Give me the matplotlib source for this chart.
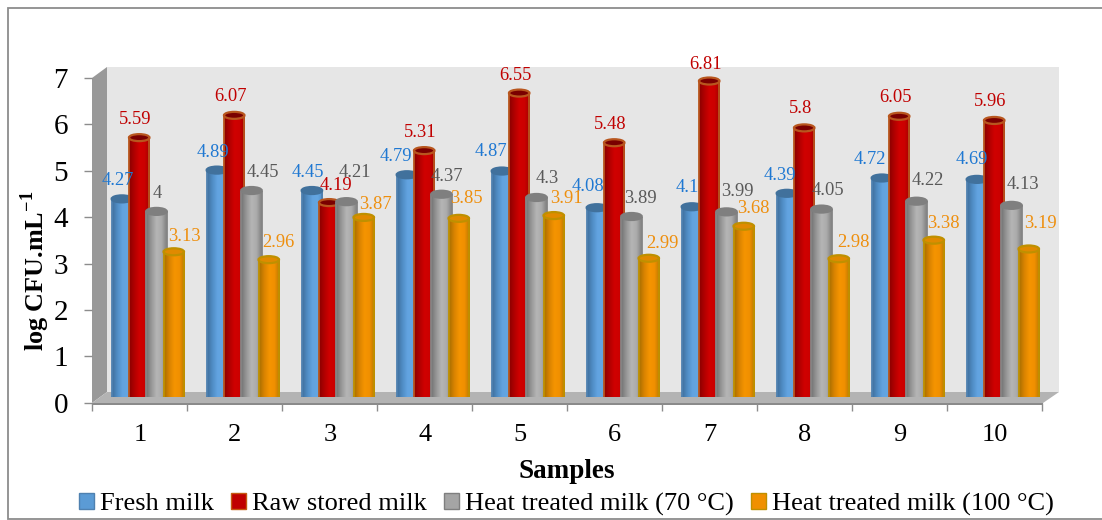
import numpy as np
import matplotlib
matplotlib.use("Agg")
import matplotlib.pyplot as plt
from matplotlib.patches import Ellipse, Polygon, Rectangle, Patch
from matplotlib.colors import LinearSegmentedColormap

plt.rcParams['font.family'] = ['Liberation Serif', 'DejaVu Serif']
plt.rcParams['mathtext.fontset'] = 'custom'
plt.rcParams['mathtext.rm'] = 'Liberation Serif'
plt.rcParams['mathtext.bf'] = 'Liberation Serif:bold'

samples = ['1', '2', '3', '4', '5', '6', '7', '8', '9', '10']
fresh_milk = [4.27, 4.89, 4.45, 4.79, 4.87, 4.08, 4.1, 4.39, 4.72, 4.69]
raw_stored = [5.59, 6.07, 4.19, 5.31, 6.55, 5.48, 6.81, 5.8, 6.05, 5.96]
heat_70 = [4, 4.45, 4.21, 4.37, 4.3, 3.89, 3.99, 4.05, 4.22, 4.13]
heat_100 = [3.13, 2.96, 3.87, 3.85, 3.91, 2.99, 3.68, 2.98, 3.38, 3.19]
series_names = ['Fresh milk', 'Raw stored milk', 'Heat treated milk (70 °C)', 'Heat treated milk (100 °C)']

# label nudges in pixels, from the reference
dx_fresh = [-4, -4, -4, -11, -11, -9, -5, -7, -12, -5]
dy_fresh = [19, 19, 19.5, 19.7, 21, 21.7, 19.8, 19.3, 19, 20.4]
dx_raw = [-4, -4, 7, -4, -4, -4, -4, -4, -4, -4]
dy_raw = [19.6, 19.4, 17.6, 19.6, 19, 19.7, 18, 19.9, 19.3, 19.5]
dx_70 = [1, 11, 8, 5, 11, 9, 11, 6, 11, 11]
dy_70 = [19.4, 19.5, 29.7, 19.2, 19.5, 19.5, 20.9, 19.1, 21.2, 21.4]
dx_100 = [11, 10, 12, 8, 13, 14, 10, 15, 10, 12]
dy_100 = [15.8, 17.7, 14.4, 20.4, 17.6, 15.3, 19.2, 17.7, 17.2, 26]

W, H = 1102, 520
fig = plt.figure(figsize=(W / 100, H / 100), dpi=100, facecolor='white')


def box(x0, x1, y_bottom, y_top):
    return [x0 / W, 1 - y_bottom / H, (x1 - x0) / W, (y_bottom - y_top) / H]


# canvas in pixels for the chart's frame, walls and floor
bg = fig.add_axes([0, 0, 1, 1], zorder=0)
bg.set_xlim(0, W)
bg.set_ylim(H, 0)
bg.axis('off')
bg.add_patch(Rectangle((8, 7.5), 1110, 511, fc='white', ec='#8c8c8c', lw=1.3))
bg.add_patch(Polygon([(107, 67), (1059, 67), (1059, 392), (107, 392)], fc='#e6e6e6', ec='none'))
bg.add_patch(Polygon([(92, 78), (107, 67), (107, 392), (92, 403)], fc='#999999', ec='none'))
bg.add_patch(Polygon([(92, 403), (107, 392), (1059, 392), (1043, 403)], fc='#b3b3b3', ec='none'))
bg.add_patch(Rectangle((92, 403), 951, 2.2, fc='#8a8a8a', ec='none'))

# front plane: the axis ticks and labels
ax = fig.add_axes(box(92.3, 1042.3, 402.7, 78), zorder=1)
ax.patch.set_alpha(0)
ax.set_xlim(0, 10)
ax.set_ylim(0, 7)
for s in ax.spines.values():
    s.set_visible(False)
ax.set_yticks(range(8))
ax.tick_params(axis='y', length=5.5, width=1, color='#8c8c8c', pad=12, labelsize=21, labelcolor='black')
ax.set_xticks(range(11))
ax.set_xticklabels([])
ax.tick_params(axis='x', which='major', length=5.5, width=1, color='#8c8c8c')
ax.set_xticks(np.arange(10) + 0.5, labels=samples, minor=True)
ax.tick_params(axis='x', which='minor', length=0, pad=15, labelsize=19)
ax.set_xlabel('Samples', fontsize=19.5, fontweight='bold')
ax.xaxis.set_label_coords((567 - 92.3) / 950, -(472 - 402.7) / 324.7, )
ax.xaxis.label.set_va('center')
ax.set_ylabel(r'log CFU.mL$^{\mathbf{-1}}$', fontsize=18.8, fontweight='bold')
ax.yaxis.set_label_coords((35 - 92.3) / 950, (402.7 - 271) / 324.7)
ax.yaxis.label.set_va('center')

# mid-depth plane: the cylinders
bars_ax = fig.add_axes(box(100.3, 1050.3, 397, 72.2), zorder=2)
bars_ax.set_xlim(0, 10)
bars_ax.set_ylim(0, 7)
bars_ax.axis('off')

series = [fresh_milk, raw_stored, heat_70, heat_100]
dxs = [dx_fresh, dx_raw, dx_70, dx_100]
dys = [dy_fresh, dy_raw, dy_70, dy_100]
ramps = [
    ['#3f6f9c', '#4f8cc4', '#62a3e0', '#64a6e2', '#4f8fcb'],
    ['#8a0000', '#b00000', '#d00000', '#cc0000', '#a00000'],
    ['#737373', '#969696', '#b5b5b5', '#ababab', '#7f7f7f'],
    ['#a86f00', '#d98300', '#f59400', '#f09000', '#b87800'],
]
edges = ['#4f81b0', '#b8561e', '#858585', '#bf9000']
lids = ['#41719c', '#b8561e', '#7f7f7f', '#bf9000']
holes = ['#41719c', '#7a0000', '#7f7f7f', '#e08a00']
text_colors = ['#1f78d2', '#c00000', '#595959', '#ee8f0e']
swatches = ['#5b9bd5', '#c00000', '#a5a5a5', '#f09000']
swatch_edges = ['#4f81b0', '#c55a11', '#7f7f7f', '#bf9000']

offset = [-0.2725 + 0.182 * k for k in range(4)]
width = 0.216
lid_h = 7.0 / 46.4
grad = np.linspace(0, 1, 64).reshape(1, -1)
x = np.arange(10) + 0.5

for k, values in enumerate(series):
    cmap = LinearSegmentedColormap.from_list(f'ramp{k}', ramps[k])
    z = 3 + k * 10
    for i, v in enumerate(values):
        cx = x[i] + offset[k]
        bar = bars_ax.bar(cx, v, width=width, color=swatches[k], edgecolor='none', zorder=z)[0]
        img = bars_ax.imshow(grad, cmap=cmap, aspect='auto', zorder=z + 1,
                             extent=[cx - width / 2, cx + width / 2, 0, v])
        img.set_clip_path(bar)
        bars_ax.add_patch(Ellipse((cx, 0), width, lid_h, fc=ramps[k][2], ec=edges[k], lw=0.8, zorder=z))
        for side in (-1, 1):
            bars_ax.plot([cx + side * width / 2] * 2, [0, v], color=edges[k], lw=1.3, zorder=z + 2,
                         solid_capstyle='butt')
        bars_ax.add_patch(Ellipse((cx, v), width, lid_h, fc=holes[k], ec=lids[k], lw=1.6, zorder=z + 3))
        bars_ax.annotate(str(v), (cx, v), xytext=(dxs[k][i], dys[k][i] - 1), textcoords='offset pixels',
                         ha='center', va='center', fontsize=13.3, color=text_colors[k], zorder=60,
                         annotation_clip=False)
bars_ax.set_xlim(0, 10)
bars_ax.set_ylim(0, 7)

handles = [Patch(fc=swatches[k], ec=swatch_edges[k], lw=1.0, label=series_names[k]) for k in range(4)]
fig.legend(handles=handles, loc='center', bbox_to_anchor=(566.5 / W, 1 - 504 / H), ncol=4, frameon=False,
           fontsize=19, handlelength=0.55, handleheight=0.55, handletextpad=0.22, columnspacing=0.68,
           borderpad=0, borderaxespad=0)

fig.savefig('out.png', dpi=100)
